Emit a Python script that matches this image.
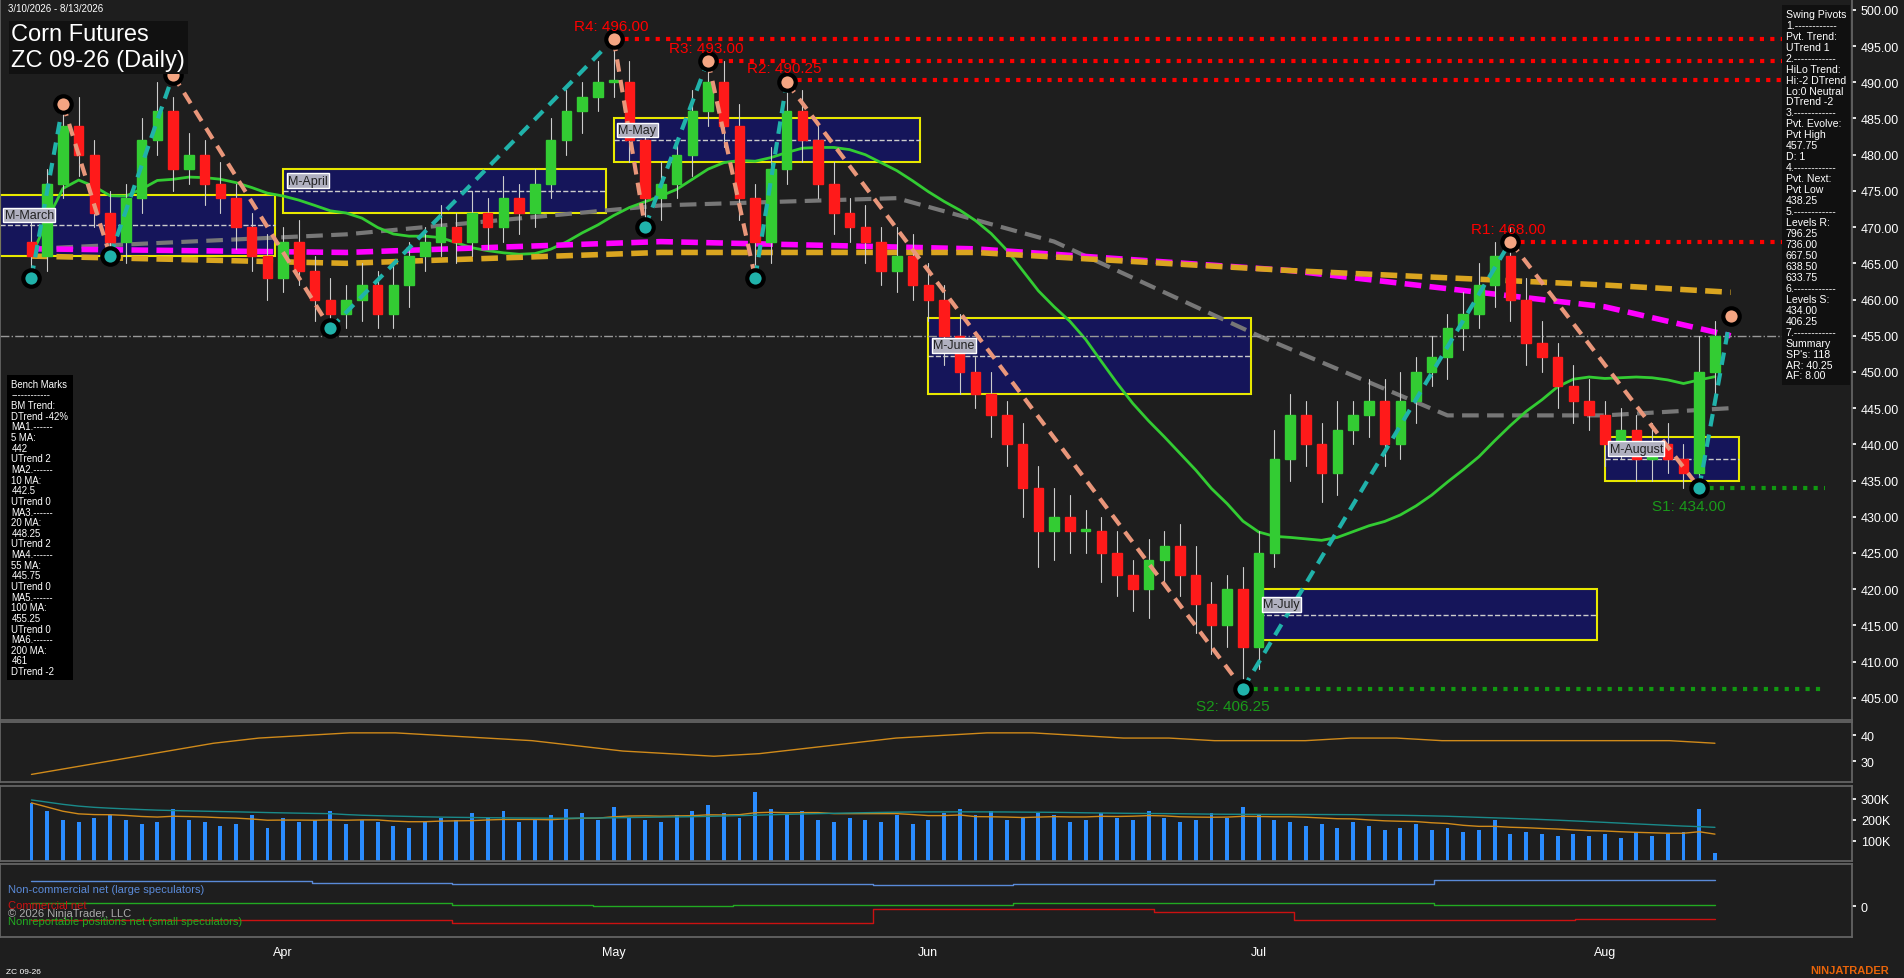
import numpy as np, pandas as pd, matplotlib
matplotlib.use("Agg")
import matplotlib.pyplot as plt, seaborn as sns
from matplotlib.patches import Rectangle

sns.set_theme(style="dark")
plt.rcParams['font.family'] = ['Liberation Sans', 'DejaVu Sans']

BG = "#1e1e1e"
closes = [466,476,484,480,472,468,474,482,486,478,480,476,474,470,466,463,
          468,464,460,458,460,462,458,462,466,468,470,468,472,470,474,472,476,482,486,488,490,
          490,482,474,476,480,486,490,484,474,468,478,486,482,476,472,470,468,464,466,462,
          460,455,450,447,444,440,434,428,430,428,428,425,422,420,424,426,422,418,415,420,412,
          425,438,444,440,436,442,444,446,440,446,450,452,456,458,462,466,460,454,452,448,446,
          444,440,442,438,440,438,436,450,455]
opens = [468] + closes[:-1]
wick_up = [3,2,3,4,2,3,2,3,4,2,3,2,3,2,2,3, 2,3,2,3,2,3,2,3,2,2,3,2,3,2,3,2,2,3,3,2,3,
           6,3,2,3,2,3,3,3,3,2,3,4,3,2,3,2,3,2,4,3, 3,2,3,2,3,2,3,3,4,3,3,2,3,2,3,2,3,4,3,2,3,
           3,4,3,2,3,4,2,3,3,4,2,3,2,3,3,2,4,3,3,2,3, 3,2,3,2,3,3,2,5,2]
wick_dn = [3,2,2,3,2,2,3,2,2,3,2,3,2,3,2,3, 2,2,3,2,2,3,2,2,3,2,2,3,2,3,2,3,2,2,2,3,2,
           2,3,4,3,2,3,2,3,3,5,3,2,3,2,3,2,3,2,3,2, 3,4,3,2,3,3,4,5,4,3,3,4,3,3,4,3,3,4,4,3,6,
           3,2,3,3,4,3,2,3,3,2,3,2,3,3,2,3,3,3,2,3,3, 2,3,2,3,3,2,2,3,3]
volume = [280,240,200,190,210,220,200,180,190,250,200,190,170,180,220,160,
          210,190,200,240,180,200,190,170,160,190,210,200,230,210,240,190,200,220,250,230,200,
          260,210,200,190,220,240,270,230,210,330,250,220,240,200,190,210,200,190,220,180,
          200,230,250,220,240,200,210,230,220,190,200,230,210,200,240,210,190,200,230,210,260,
          220,200,190,170,180,160,190,170,150,160,180,150,160,140,150,200,130,140,130,120,130,
          120,130,110,140,120,130,140,250,40]
ma55_idx = [0,20,40,55,65,78,90,100,108]
ma55_val = [467,469,473,474,468,455,444,444,445]
ma100_idx = [0,20,40,60,80,100,108]
ma100_val = [467,466.5,468,467,464,459,455]
ma200_idx = [0,20,40,60,80,100,108]
ma200_val = [466,465,466.5,466.5,464,462,461]
piv_idx = [0,2,5,9,19,37,39,43,46,48,77,94,106,108]
piv_val = [463,487,466,491,456,496,470,493,463,490,406.25,468,434,457.75]
levels = [("R4: 496.00",496,37,"red"),("R3: 493.00",493,43,"red"),("R2: 490.25",490.25,48,"red"),
          ("R1: 468.00",468,94,"red"),("S2: 406.25",406.25,77,"#1a9a1a"),("S1: 434.00",434,106,"#1a9a1a")]
boxes = [("M-March",-2,15,466,474.5),("M-April",16,36,472,478),("M-May",37,56,479,485),
         ("M-June",57,77,447,457.5),("M-July",78,99,413,420),("M-August",100,108,435,441)]
months = ["Apr","May","Jun","Jul","Aug"]
month_idx = [16,37,57,78,100]
adx = [25,28,31,34,37,39,40,41,41,40,39,38,36,34,33,32,33,35,37,39,40,41,41,40,39,39,38,38,38,39,39,38,38,38,38,38,38,37]
cot_blue = [0.9,0.9,0.85,0.8,0.8,0.8,0.75,0.8,0.8,0.8,0.95,0.95,0.95]
cot_green = [0.1,0.1,0.1,0.05,0.0,0.05,0.05,0.1,0.1,0.1,0.05,0.05,0.05]
cot_red = [-0.5,-0.5,-0.5,-0.6,-0.6,-0.6,-0.1,-0.1,-0.2,-0.5,-0.5,-0.45,-0.45]

n = len(closes)
x = np.arange(n)
fig = plt.figure(figsize=(19.04, 9.79), dpi=100, facecolor=BG)
W = 0.9726
ax = fig.add_axes([0, 0.264, W, 0.736])
a2 = fig.add_axes([0, 0.200, W, 0.061])
a3 = fig.add_axes([0, 0.119, W, 0.077])
a4 = fig.add_axes([0, 0.042, W, 0.074])
for a in (ax, a2, a3, a4):
    a.set_facecolor(BG)
    a.set_xlim(-2, 115.7)
    a.yaxis.tick_right()
    a.tick_params(colors="white", labelsize=9, length=3)
    for s in a.spines.values(): s.set_color("#666666")
    a.set_xticks([])
    a.grid(False)

ax.set_ylim(402, 501.5)
ax.set_yticks(np.arange(405, 501, 5))
ax.set_yticklabels([f"{v:.2f}" for v in np.arange(405, 501, 5)])

for nm, x0, x1, lo, hi in boxes:
    ax.add_patch(Rectangle((x0, lo), x1 - x0 + 0.5, hi - lo, fc="#15155a", ec="#e8e800", lw=1.5, zorder=1))
    ax.plot([x0, x1 + 0.5], [(lo + hi) / 2] * 2, color="#cccccc", ls="--", lw=1, zorder=1)
    ax.text(x0 + 0.3, (lo + hi) / 2 + 1, nm, color="#222", fontsize=9, zorder=6,
            bbox=dict(fc="#b0b0c0", ec="white", pad=1))

ma20 = pd.Series(closes).rolling(20, min_periods=1).mean()
sns.lineplot(x=ma55_idx, y=ma55_val, ax=ax, color="#777777", lw=3, ls=(0, (4, 2)), zorder=2)
sns.lineplot(x=x, y=ma20.values, ax=ax, color="#33cc33", lw=2, zorder=2)
sns.lineplot(x=ma100_idx, y=ma100_val, ax=ax, color="#ff00ff", lw=4, ls=(0, (3, 1.5)), zorder=2)
sns.lineplot(x=ma200_idx, y=ma200_val, ax=ax, color="#daa520", lw=4, ls=(0, (3, 1.5)), zorder=2)
ax.axhline(455, color="#999999", ls="-.", lw=1)

for i in range(n):
    o, c = opens[i], closes[i]
    col = "#33cc33" if c >= o else "#ff1a1a"
    ax.plot([i, i], [min(o, c) - wick_dn[i], max(o, c) + wick_up[i]], color="#cccccc", lw=0.8, zorder=3)
    ax.add_patch(Rectangle((i - 0.3, min(o, c)), 0.6, max(abs(c - o), 0.3), fc=col, ec=col, zorder=4))

for k in range(len(piv_idx) - 1):
    up = piv_val[k + 1] > piv_val[k]
    ax.plot(piv_idx[k:k + 2], piv_val[k:k + 2], color="#20b2aa" if up else "#e9967a",
            lw=3, ls=(0, (3, 2)), zorder=5)
for k, (i, v) in enumerate(zip(piv_idx, piv_val)):
    hi = k + 1 < len(piv_val) and piv_val[k + 1] < v or (k + 1 == len(piv_val) and v > piv_val[k - 1])
    ax.scatter([i], [v], s=140, c="#f4a582" if hi else "#20b2aa", edgecolors="black", linewidths=3, zorder=7)

for lab, v, i0, col in levels:
    ax.plot([i0, 114], [v, v], color="red" if col == "red" else "#119911", ls=(0, (1, 1.5)), lw=3, zorder=2)
    dy = 1.2 if col == "red" else -3
    ax.text(i0 - 2.5 if col == "red" else i0 - 3, v + dy, lab, color=col, fontsize=11, zorder=8)

fig.text(0.004, 0.996, "3/10/2026 - 8/13/2026", color="white", fontsize=7, va="top")
fig.text(0.006, 0.975, "Corn Futures\nZC 09-26 (Daily)", color="white", fontsize=17, va="top",
         bbox=dict(fc="#111111", ec="none", pad=2))
sw = ("Swing Pivots\n1.------------\nPvt. Trend:\nUTrend 1\n2.------------\nHiLo Trend:\nHi:-2 DTrend\n"
      "Lo:0 Neutral\nDTrend -2\n3.------------\nPvt. Evolve:\nPvt High\n457.75\nD: 1\n4.------------\n"
      "Pvt. Next:\nPvt Low\n438.25\n5.------------\nLevels R:\n796.25\n736.00\n667.50\n638.50\n633.75\n"
      "6.------------\nLevels S:\n434.00\n406.25\n7.------------\nSummary\nSP's: 118\nAR: 40.25\nAF: 8.00")
fig.text(0.938, 0.990, sw, color="white", fontsize=7.6, va="top", linespacing=1.12,
         bbox=dict(fc="#101010", ec="none", pad=3))
bm = ("Bench Marks\n------------\nBM Trend:\nDTrend -42%\nMA1.------\n5 MA:\n442\nUTrend 2\nMA2.------\n"
      "10 MA:\n442.5\nUTrend 0\nMA3.------\n20 MA:\n448.25\nUTrend 2\nMA4.------\n55 MA:\n445.75\n"
      "UTrend 0\nMA5.------\n100 MA:\n455.25\nUTrend 0\nMA6.------\n200 MA:\n461\nDTrend -2")
fig.text(0.006, 0.612, bm, color="white", fontsize=6.9, va="top", linespacing=1.08,
         bbox=dict(fc="#000000", ec="none", pad=3))

adx_x = np.linspace(0, n - 1, len(adx))
sns.lineplot(x=adx_x, y=adx, ax=a2, color="#d08a1a", lw=1)
a2.set_ylim(22, 45); a2.set_yticks([30, 40])

a3.bar(x, volume, width=0.25, color="#2a8cff", edgecolor="none", linewidth=0)
vs = pd.Series(volume).rolling(14, min_periods=1).mean()
sns.lineplot(x=x, y=vs.values, ax=a3, color="#d08a1a", lw=1)
sns.lineplot(x=x, y=(vs.rolling(20, min_periods=1).mean() * 1.05).values, ax=a3, color="#1a8a8a", lw=1)
a3.set_ylim(0, 360); a3.set_yticks([100, 200, 300]); a3.set_yticklabels(["100K", "200K", "300K"])

cx = np.linspace(0, n - 1, len(cot_blue))
a4.step(cx, cot_blue, color="#5a8ad8", lw=1, where="post")
a4.step(cx, cot_green, color="#22aa22", lw=1, where="post")
a4.step(cx, cot_red, color="#cc1111", lw=1, where="post")
a4.set_ylim(-1.1, 1.5); a4.set_yticks([0]); a4.set_yticklabels(["0"])
a4.text(-1.5, 0.5, "Non-commercial net (large speculators)", color="#5a8ad8", fontsize=8)
a4.text(-1.5, -0.05, "Commercial net", color="#cc1111", fontsize=8)
a4.text(-1.5, -0.35, "© 2026 NinjaTrader, LLC", color="#aaaaaa", fontsize=8)
a4.text(-1.5, -0.65, "Nonreportable positions net (small speculators)", color="#22aa22", fontsize=8)
a4.set_xticks(month_idx); a4.set_xticklabels(months)
a4.tick_params(axis="x", colors="white", labelsize=9)
fig.text(0.003, 0.005, "ZC 09-26", color="white", fontsize=6)
fig.text(0.992, 0.005, "NINJATRADER", color="#e8640a", fontsize=8, ha="right", weight="bold")
fig.savefig("out.png", dpi=100, facecolor=BG)
